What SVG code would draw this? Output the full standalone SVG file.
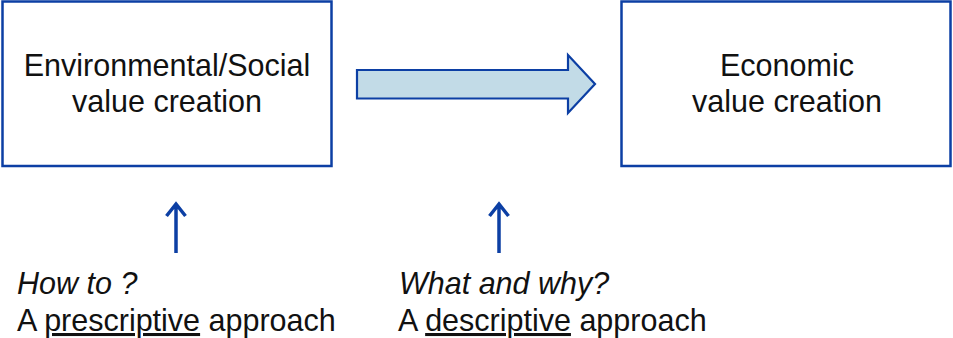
<svg xmlns="http://www.w3.org/2000/svg" width="953" height="338" viewBox="0 0 953 338">
  <style>
    .box { fill: #ffffff; stroke: #0c3fa4; stroke-width: 2.5; }
    .label { font-family: "Liberation Sans", Arial, sans-serif; font-size: 30.5px; fill: #111111; }
    .mid { text-anchor: middle; }
    .it { font-style: italic; }
    .ul { text-decoration: underline; }
    .up { stroke: #0c3fa4; stroke-width: 3.5; fill: none; }
  </style>
  <rect width="953" height="338" fill="#ffffff"/>

  <g id="env-social">
    <rect class="box" x="2.5" y="1.5" width="329" height="164.5"/>
    <text class="label mid" x="167" y="76">Environmental/Social</text>
    <text class="label mid" x="167" y="112">value creation</text>
  </g>

  <g id="economic">
    <rect class="box" x="621.5" y="1.5" width="329" height="164.5"/>
    <text class="label mid" x="787" y="76">Economic</text>
    <text class="label mid" x="787" y="112">value creation</text>
  </g>

  <g id="connectors">
    <!-- block arrow between the two boxes -->
    <path d="M357,70 L568,70 L568,55 L595,84 L568,113 L568,98.5 L357,98.5 Z" fill="#c2dbe7" stroke="#0c3fa4" stroke-width="2.2" stroke-linejoin="miter"/>
    <!-- small upward arrows -->
    <path class="up" d="M176,253 L176,204 M166.5,216 L176,204 L185.5,216"/>
    <path class="up" d="M499,253 L499,204 M489.5,216 L499,204 L508.5,216"/>
  </g>

  <g id="prescriptive">
    <text class="label it" x="17" y="294">How to ?</text>
    <text class="label" x="17" y="331">A <tspan class="ul">prescriptive</tspan> approach</text>
  </g>

  <g id="descriptive">
    <text class="label it" x="399" y="294">What and why?</text>
    <text class="label" x="398" y="331">A <tspan class="ul">descriptive</tspan> approach</text>
  </g>
</svg>
